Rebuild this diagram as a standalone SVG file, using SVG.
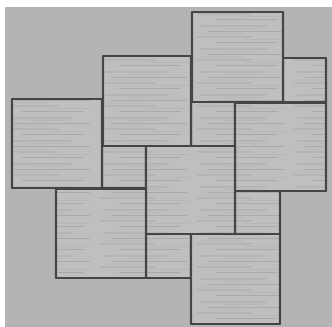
<svg xmlns="http://www.w3.org/2000/svg" width="332" height="327" viewBox="0 0 332 327">
<defs>
<pattern id="hatch" width="97" height="23" patternUnits="userSpaceOnUse">
<rect width="97" height="23" fill="#bfbfbf"/>
<path d="M6 3H72M14 8.5H90M3 14H58M22 19.5H84" stroke="#a4a4a4" stroke-width="0.8" fill="none"/>
<path d="M30 5.5H66M8 11H48M50 16.5H92" stroke="#b0b0b0" stroke-width="0.6" fill="none"/>
</pattern>
<style>
.sq{fill:url(#hatch);stroke:#454545;stroke-width:2.2;stroke-linejoin:round}
</style>
</defs>
<rect width="332" height="327" fill="#ffffff"/>
<rect x="5" y="7" width="327" height="320" fill="#b4b4b4"/>
<g id="small-a"><rect class="sq" x="283" y="58" width="43" height="44"/></g>
<g id="small-b"><rect class="sq" x="191" y="102" width="44" height="44"/></g>
<g id="small-c"><rect class="sq" x="102" y="146" width="44" height="42"/></g>
<g id="small-d"><rect class="sq" x="235" y="191" width="45" height="43"/></g>
<g id="small-e"><rect class="sq" x="146" y="234" width="45" height="44"/></g>
<g id="big-top"><rect class="sq" x="192" y="12" width="91" height="90"/></g>
<g id="big-topmid"><rect class="sq" x="103" y="56" width="88" height="90"/></g>
<g id="big-left"><rect class="sq" x="12" y="99" width="90" height="89"/></g>
<g id="big-right"><rect class="sq" x="235" y="103" width="91" height="88"/></g>
<g id="big-center"><rect class="sq" x="146" y="146" width="89" height="88"/></g>
<g id="big-botleft"><rect class="sq" x="56" y="189" width="90" height="89"/></g>
<g id="big-bottom"><rect class="sq" x="191" y="234" width="89" height="90"/></g>
</svg>
